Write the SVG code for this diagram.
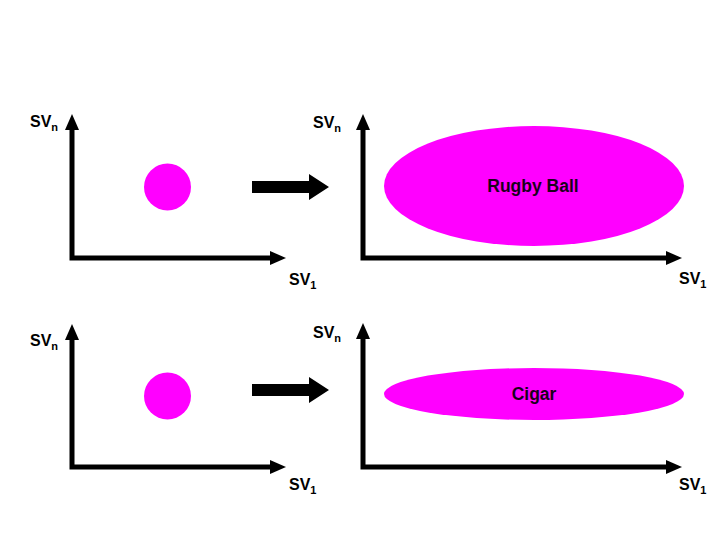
<svg xmlns="http://www.w3.org/2000/svg" width="720" height="540" viewBox="0 0 720 540">
<style>
.ax{fill:none;stroke:#000;stroke-width:5;stroke-linejoin:miter}
.lbl{font-family:"Liberation Sans",Arial,sans-serif;font-weight:bold;font-size:16px;fill:#000}
.sub{font-size:11px}
.blob{fill:#FF00FF}
.nt{font-family:"Liberation Sans",Arial,sans-serif;font-weight:bold;font-size:17.5px;fill:#1a001a;text-anchor:middle}
</style>
<defs>
<marker id="ah" markerUnits="userSpaceOnUse" viewBox="0 0 16 14" refX="2" refY="7" markerWidth="16" markerHeight="14" orient="auto-start-reverse">
<path d="M0,0 L16,7 L0,14 Z" fill="#000"/>
</marker>
<path id="fat" d="M0,-6 L57,-6 L57,-13 L77,0 L57,13 L57,6 L0,6 Z" fill="#000"/>
</defs>
<g id="connectors">
<path class="ax" d="M72,128 L72,258 L272,258" marker-start="url(#ah)" marker-end="url(#ah)"/>
<path class="ax" d="M363,128 L363,258 L668,258" marker-start="url(#ah)" marker-end="url(#ah)"/>
<path class="ax" d="M72,338 L72,467 L272,467" marker-start="url(#ah)" marker-end="url(#ah)"/>
<path class="ax" d="M363,337 L363,467 L668,467" marker-start="url(#ah)" marker-end="url(#ah)"/>
<use href="#fat" x="252" y="187"/>
<use href="#fat" x="252" y="390"/>
</g>
<g id="labels">
<text class="lbl" x="30" y="127">SV<tspan class="sub" dy="4">n</tspan></text>
<text class="lbl" x="313" y="128">SV<tspan class="sub" dy="4">n</tspan></text>
<text class="lbl" x="289" y="285">SV<tspan class="sub" dy="4">1</tspan></text>
<text class="lbl" x="679" y="284">SV<tspan class="sub" dy="4">1</tspan></text>
<text class="lbl" x="30" y="346">SV<tspan class="sub" dy="4">n</tspan></text>
<text class="lbl" x="313" y="338">SV<tspan class="sub" dy="4">n</tspan></text>
<text class="lbl" x="289" y="490">SV<tspan class="sub" dy="4">1</tspan></text>
<text class="lbl" x="679" y="490">SV<tspan class="sub" dy="4">1</tspan></text>
</g>
<g id="dot-top"><circle class="blob" cx="167.5" cy="187" r="23.5"/></g>
<g id="rugby-ball">
<ellipse class="blob" cx="534" cy="186" rx="150" ry="60"/>
<text class="nt" x="533" y="192">Rugby Ball</text>
</g>
<g id="dot-bottom"><circle class="blob" cx="167.5" cy="396" r="23.5"/></g>
<g id="cigar">
<ellipse class="blob" cx="534" cy="394" rx="150" ry="26"/>
<text class="nt" x="534" y="400">Cigar</text>
</g>
</svg>
